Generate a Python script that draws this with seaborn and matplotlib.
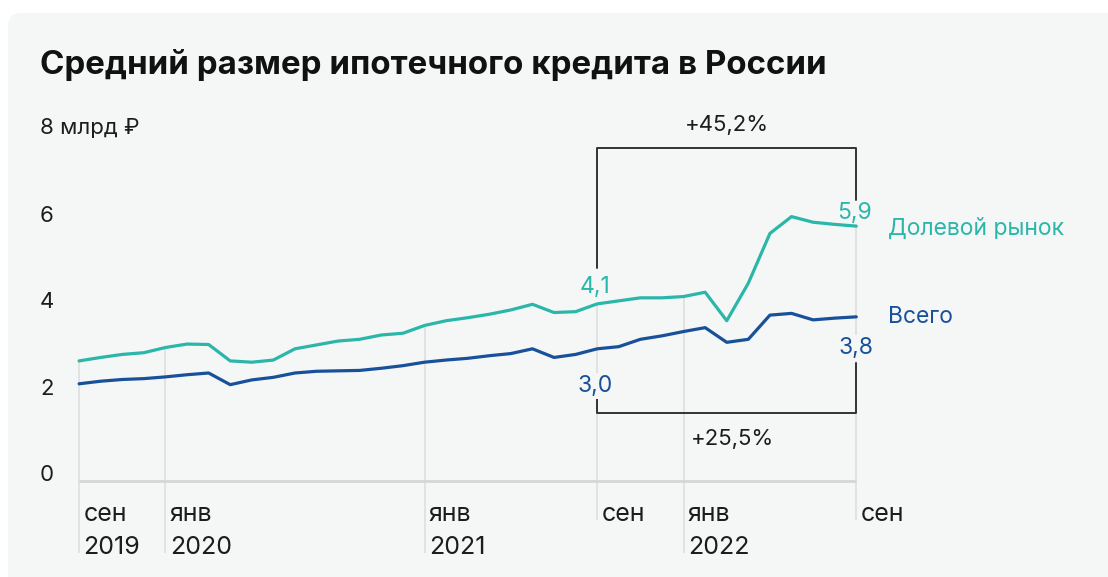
import seaborn as sns
import matplotlib.pyplot as plt
import pandas as pd
import numpy as np
from matplotlib.patches import FancyBboxPatch

sns.set_style("white")
plt.rcParams['font.family'] = ['Inter', 'DejaVu Sans']

# Monthly data, Sep 2019 - Sep 2022, bn RUB
months = pd.period_range('2019-09', '2022-09', freq='M')
shared = [2.78, 2.86, 2.93, 2.97, 3.09, 3.17, 3.16, 2.78, 2.75, 2.80,
          3.06, 3.15, 3.24, 3.28, 3.38, 3.42, 3.60, 3.71, 3.78, 3.86,
          3.96, 4.09, 3.90, 3.92, 4.10, 4.17, 4.24, 4.24, 4.27, 4.37,
          3.71, 4.58, 5.73, 6.12, 5.99, 5.94, 5.90]
total = [2.25, 2.31, 2.35, 2.37, 2.41, 2.46, 2.50, 2.23, 2.34, 2.40,
         2.50, 2.54, 2.55, 2.56, 2.61, 2.67, 2.75, 2.80, 2.84, 2.90,
         2.95, 3.06, 2.86, 2.93, 3.06, 3.11, 3.28, 3.36, 3.46, 3.55,
         3.21, 3.28, 3.84, 3.88, 3.73, 3.77, 3.80]
series_names = ['Долевой рынок', 'Всего']
y_ticks = [0, 2, 4, 6]
tick_months = ['2019-09', '2020-01', '2021-01', '2021-09', '2022-01', '2022-09']
tick_top = ['сен', 'янв', 'янв', 'сен', 'янв', 'сен']
tick_bottom = ['2019', '2020', '2021', '', '2022', '']
start_labels = ['4,1', '3,0']
end_labels = ['5,9', '3,8']
pct_labels = ['+45,2%', '+25,5%']

TEAL = '#2bb6aa'
BLUE = '#18509a'
BG = '#f5f6f6'
INK = '#1c1c1c'

idx = np.arange(len(months))
df = pd.DataFrame({
    'm': np.concatenate([idx, idx]),
    'value': shared + total,
    'series': [series_names[0]] * len(idx) + [series_names[1]] * len(idx),
})

fig = plt.figure(figsize=(11.08, 5.77), dpi=100)
fig.patch.set_facecolor('white')
panel = FancyBboxPatch((8 / 1108, -0.2), 1.2, 1.2 - 13 / 577,
                       boxstyle="round,pad=0,rounding_size=0.012",
                       transform=fig.transFigure, facecolor=BG, edgecolor='none',
                       mutation_aspect=1108 / 577, zorder=-5)
fig.patches.append(panel)

ax = fig.add_axes([0, 0, 1, 1])
ax.set_facecolor('none')
ax.set_xlim(-3.664, 47.66)
ax.set_ylim(-2.222, 11.134)
ax.axis('off')

# vertical guides from the upper line down to the month labels
tick_idx = [months.get_loc(pd.Period(t, freq='M')) for t in tick_months]
for i, top, bottom in zip(tick_idx, tick_top, tick_bottom):
    low = -1.66 if bottom else -0.90
    ax.vlines(i, low, shared[i], color='#dcdcdc', lw=1.1, zorder=1)
    ax.text(i + 0.2, -0.92, top, fontsize=18, color=INK, ha='left', va='baseline')
    if bottom:
        ax.text(i + 0.2, -1.69, bottom, fontsize=18, color=INK, ha='left', va='baseline')

# baseline
ax.hlines(0, idx[0], idx[-1], color='#d6d6d6', lw=2, zorder=1)

sns.lineplot(data=df, x='m', y='value', hue='series', palette=[TEAL, BLUE],
             linewidth=2.3, legend=False, ax=ax, zorder=3)

# y labels
for t in y_ticks:
    ax.text(-1.81, t, str(t), fontsize=16, color=INK, ha='left', va='baseline')
ax.text(-1.81, 8.03, '8 млрд ₽', fontsize=16, color=INK, ha='left', va='baseline')

# brackets
s, e = tick_idx[3], tick_idx[5]
br = dict(color='#333333', lw=1.4, zorder=2)
ax.plot([s, s, e, e], [4.93, 7.70, 7.70, 6.50], **br)
ax.plot([s, s, e, e], [1.99, 1.57, 1.57, 2.72], **br)
ax.text((s + e) / 2, 8.10, pct_labels[0], fontsize=16, color=INK, ha='center', va='baseline')
ax.text((s + e) / 2 + 0.28, 0.83, pct_labels[1], fontsize=16, color=INK, ha='center', va='baseline')

# value labels
box = dict(facecolor=BG, edgecolor='none', pad=1.5)
ax.text(s - 0.12, 4.36, start_labels[0], fontsize=16.5, color=TEAL, ha='center', va='baseline', zorder=4)
ax.text(s - 0.08, 2.07, start_labels[1], fontsize=16.5, color=BLUE, ha='center', va='baseline', bbox=box, zorder=2.5)
ax.text(e - 0.07, 6.06, end_labels[0], fontsize=16.5, color=TEAL, ha='center', va='baseline', zorder=4)
ax.text(e, 2.93, end_labels[1], fontsize=16.5, color=BLUE, ha='center', va='baseline', bbox=box, zorder=2.5)

# series names
ax.text(37.47, 5.70, series_names[0], fontsize=16.5, color=TEAL, ha='left', va='baseline')
ax.text(37.47, 3.66, series_names[1], fontsize=16.5, color=BLUE, ha='left', va='baseline')

fig.text(40 / 1108, 1 - 65 / 577, 'Средний размер ипотечного кредита в России',
         fontsize=23.8, fontweight='bold', color='#111111', ha='left', va='center')

fig.savefig('out.png', dpi=100, facecolor=fig.get_facecolor())
